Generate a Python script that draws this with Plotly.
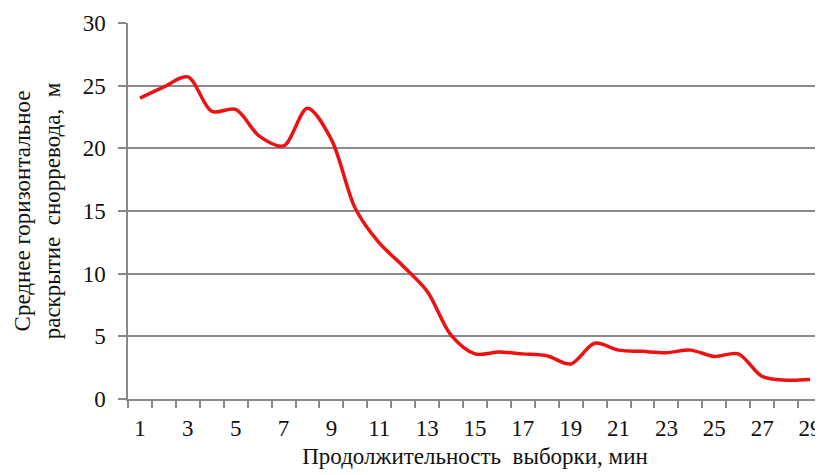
import plotly.graph_objects as go

minutes = list(range(1, 30))
spread = [24.0, 24.9, 25.7, 22.95, 23.1, 20.95, 20.2, 23.2, 20.7, 15.2,
          12.45, 10.6, 8.6, 5.1, 3.6, 3.75, 3.6, 3.45, 2.8, 4.45,
          3.9, 3.8, 3.7, 3.9, 3.4, 3.6, 1.8, 1.5, 1.55]
x_ticks = list(range(1, 30, 2))
y_ticks = [0, 5, 10, 15, 20, 25, 30]

font = "Liberation Serif, Times New Roman, serif"

fig = go.Figure()
fig.add_trace(go.Scatter(
    x=minutes, y=spread, mode="lines",
    line=dict(color="#ee1111", width=3.5, shape="spline", smoothing=0.9),
    hoverinfo="skip", showlegend=False,
))

# page body has an 8px default margin, so the figure is sized 815x467
fig.update_layout(
    width=815, height=467,
    margin=dict(l=120, r=1, t=15, b=76, autoexpand=False),
    paper_bgcolor="white", plot_bgcolor="white",
    font=dict(family=font, size=23, color="#111"),
    xaxis=dict(
        range=[0.5, 29.5], tickvals=x_ticks, ticktext=[str(v) for v in x_ticks],
        ticks="", showgrid=False, zeroline=False, automargin=False,
        showline=True, linecolor="#888", linewidth=1.5,
        minor=dict(tick0=0.5, dtick=1, ticks="outside", ticklen=7,
                   tickcolor="#888", tickwidth=1.5, showgrid=False),
        ticklabelstandoff=8,
        title=dict(text="Продолжительность  выборки, мин", font=dict(size=23), standoff=8),
        tickfont=dict(size=23),
    ),
    yaxis=dict(
        range=[0, 30], tickvals=y_ticks, ticks="outside", ticklen=8,
        tickcolor="#888", tickwidth=1.5, automargin=False,
        showgrid=True, gridcolor="#8a8a8a", gridwidth=1.5, zeroline=False,
        showline=True, linecolor="#888", linewidth=1.5,
        ticklabelstandoff=8,
        title=dict(text="Среднее горизонтальное<br>раскрытие  снорревода,  м",
                   font=dict(size=23), standoff=16),
        tickfont=dict(size=23),
    ),
)

fig.write_html("out.html")
